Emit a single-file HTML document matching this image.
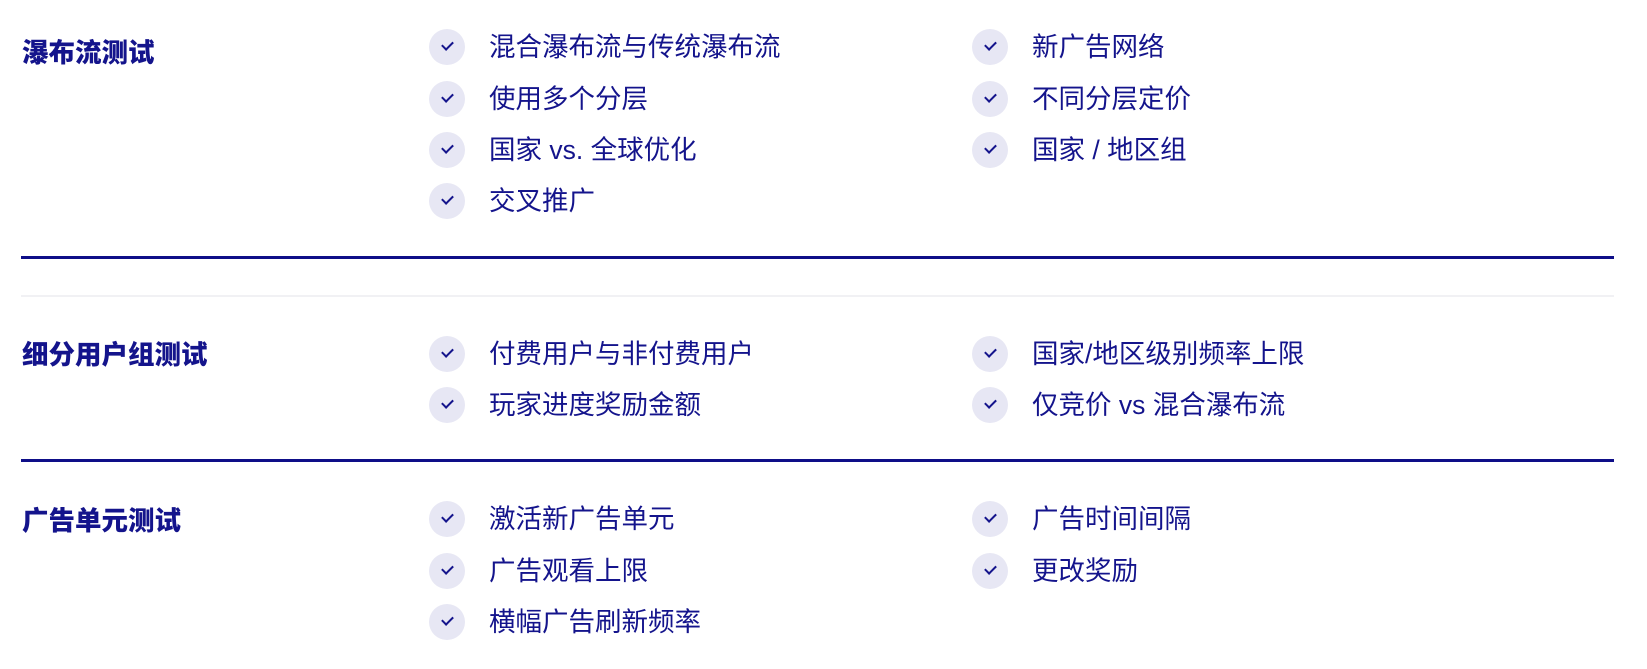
<!DOCTYPE html>
<html><head><meta charset="utf-8"><style>
html,body{margin:0;padding:0;background:#fff;width:1647px;height:669px;overflow:hidden}
body{position:relative;font-family:"Liberation Sans","Noto Sans CJK SC",sans-serif;color:#14148c}
.t{position:absolute;left:22px;font-size:26.5px;font-weight:900;line-height:32px;transform:translateY(-50%)}
.i{position:absolute;height:36px;line-height:36px;font-size:26.5px;transform:translateY(-50%);white-space:nowrap}
.i:before{content:"";position:absolute;left:-60px;top:0;width:36px;height:36px;border-radius:50%;background:#e7e7f4}
.i:after{content:"";position:absolute;left:-47px;top:12px;width:9px;height:5px;border-left:2px solid #14148c;border-bottom:2px solid #14148c;transform:rotate(-45deg)}
.c1{left:489px}.c2{left:1032px}
.hr{position:absolute;left:21px;width:1593px;height:3px;background:#0e0e88}
.lg{position:absolute;left:21px;width:1593px;height:2px;background:#f1f1f4}
</style></head><body>
<div class="t" style="top:53px">瀑布流测试</div>
<div class="i c1" style="top:47px">混合瀑布流与传统瀑布流</div>
<div class="i c1" style="top:99px">使用多个分层</div>
<div class="i c1" style="top:150px">国家 vs. 全球优化</div>
<div class="i c1" style="top:201px">交叉推广</div>
<div class="i c2" style="top:47px">新广告网络</div>
<div class="i c2" style="top:99px">不同分层定价</div>
<div class="i c2" style="top:150px">国家 / 地区组</div>
<div class="hr" style="top:256px"></div>
<div class="lg" style="top:295px"></div>
<div class="t" style="top:355px">细分用户组测试</div>
<div class="i c1" style="top:354px">付费用户与非付费用户</div>
<div class="i c1" style="top:405px">玩家进度奖励金额</div>
<div class="i c2" style="top:354px">国家/地区级别频率上限</div>
<div class="i c2" style="top:405px">仅竞价 vs 混合瀑布流</div>
<div class="hr" style="top:459px"></div>
<div class="t" style="top:521px">广告单元测试</div>
<div class="i c1" style="top:519px">激活新广告单元</div>
<div class="i c1" style="top:571px">广告观看上限</div>
<div class="i c1" style="top:622px">横幅广告刷新频率</div>
<div class="i c2" style="top:519px">广告时间间隔</div>
<div class="i c2" style="top:571px">更改奖励</div>
</body></html>
